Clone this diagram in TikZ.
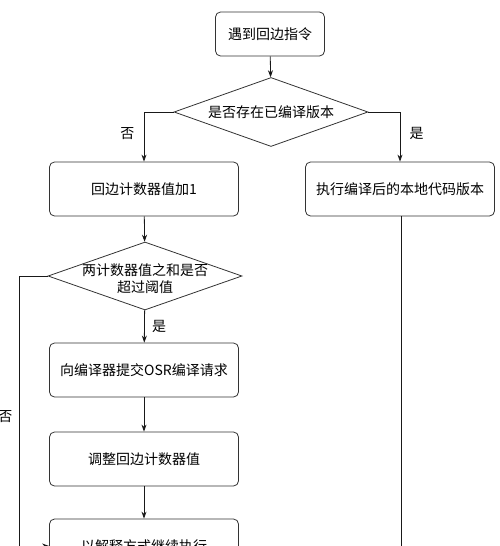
\documentclass[tikz,border=0pt]{standalone}
\usepackage{fontspec}
\setmainfont{Noto Sans CJK SC}
\usepackage{tikz}
\usetikzlibrary{arrows.meta,shapes.geometric,positioning}
\tikzset{>=Stealth}

\begin{document}
\begin{tikzpicture}[x=1pt,y=-1pt,
    every node/.style={font=\fontsize{14}{17}\selectfont},
    box/.style={draw=black!80,line width=0.8pt,rounded corners=5pt,minimum width=189pt,minimum height=54pt,inner sep=0pt},
    dia/.style={draw=black!80,line width=0.8pt,diamond,aspect=2.8,inner sep=0pt,minimum width=194pt,minimum height=69pt}]
    \useasboundingbox (0,0) rectangle (500,546);
    \node[box,minimum width=109pt,minimum height=44pt] at (270,34) (start) {遇到回边指令};
    \node[dia] at (271,112) (check) {是否存在已编译版本};
    \node[box] at (144,189) (inc) {回边计数器值加1};
    \node[box] at (400,189) (native) {执行编译后的本地代码版本};
    \node[dia,minimum height=68pt] at (145,276) (limit) {};
    \node[align=center] at (145,279) (limittxt) {两计数器值之和是否\\超过阈值};
    \node[box] at (144,370) (osr) {向编译器提交OSR编译请求};
    \node[box] at (144,459) (adjust) {调整回边计数器值};
    \node[box] at (144,546) (interp) {以解释方式继续执行};
    \coordinate (back) at (19,276);
    \coordinate (down) at (401,560);
    \path[->, line width=0.8pt, draw=black!90, >={Stealth[length=7pt,width=5pt]}]
    (start) edge (check)
    (inc) edge (limit)
    (limit) edge node[right=4pt] {是} (osr)
    (osr) edge (adjust)
    (adjust) edge (interp)
    ;
    \draw[->, line width=0.8pt, draw=black!90, >={Stealth[length=7pt,width=5pt]}]
    (check.west) -| node[pos=0.72,left=6pt] {否} (inc.north);
    \draw[->, line width=0.8pt, draw=black!90, >={Stealth[length=7pt,width=5pt]}]
    (check.east) -| node[pos=0.72,right=6pt] {是} (native.north);
    \draw[->, line width=0.8pt, draw=black!90, >={Stealth[length=7pt,width=5pt]}]
    (limit.west) -- (back) |- node[pos=0.26,left=3pt] {否} (interp.west);
    \draw[line width=0.8pt, draw=black!90] (native.south -| down) -- (down);
\end{tikzpicture}
\end{document}
